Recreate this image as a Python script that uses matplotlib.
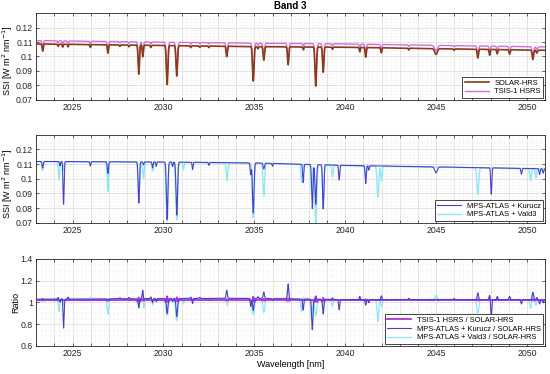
"""
Band 3 spectral comparison: SOLAR-HRS, TSIS-1 HSRS and MPS-ATLAS spectra
plus their ratios to SOLAR-HRS.
"""

import numpy as np
import matplotlib
matplotlib.use("Agg")
import matplotlib.pyplot as plt
from matplotlib.ticker import MultipleLocator, FuncFormatter

plt.rcParams['font.family'] = ['Liberation Sans', 'DejaVu Sans']

# Continuum anchors (nm, W m-2 nm-1)
cont_wl = [2023, 2030, 2035, 2040, 2045, 2051]
solar_cont = [0.1087, 0.1076, 0.1068, 0.1064, 0.1054, 0.1043]
tsis_cont = [0.1110, 0.1099, 0.1092, 0.1087, 0.1077, 0.1066]
kurucz_cont = [0.1118, 0.1114, 0.1108, 0.1091, 0.1081, 0.1068]
vald_cont = [0.1116, 0.1112, 0.1106, 0.1089, 0.1079, 0.1066]

# Absorption lines: centre (nm), depth below continuum, width (nm)
solar_lines_c = [2023.35, 2024.2, 2024.45, 2024.75, 2025.97, 2026.94, 2027.6, 2028.1,
                 2028.64, 2028.86, 2029.3, 2030.2, 2030.73, 2031.5, 2032.0, 2032.5,
                 2033.48, 2034.94, 2035.2, 2035.52, 2036.86, 2037.7, 2038.38, 2038.79,
                 2039.3, 2040.8, 2041.13, 2041.99, 2043.5, 2045.0, 2046.0, 2047.3,
                 2047.95, 2048.37, 2049.05, 2050.33, 2050.55]
solar_lines_d = [0.005, 0.0015, 0.002, 0.0018, 0.002, 0.0058, 0.001, 0.0012,
                 0.020, 0.008, 0.0015, 0.027, 0.021, 0.0012, 0.001, 0.001,
                 0.0072, 0.0238, 0.0015, 0.0093, 0.0124, 0.002, 0.027, 0.0174,
                 0.0015, 0.003, 0.0067, 0.0035, 0.0012, 0.004, 0.001, 0.006,
                 0.004, 0.003, 0.003, 0.0065, 0.002]
solar_lines_w = [0.03, 0.025, 0.025, 0.025, 0.025, 0.03, 0.025, 0.025,
                 0.035, 0.03, 0.025, 0.04, 0.04, 0.025, 0.025, 0.025,
                 0.035, 0.04, 0.025, 0.035, 0.035, 0.025, 0.04, 0.035,
                 0.025, 0.025, 0.03, 0.03, 0.025, 0.07, 0.025, 0.035,
                 0.03, 0.03, 0.035, 0.04, 0.035]

kurucz_lines_c = [2023.35, 2024.3, 2024.5, 2025.97, 2026.94, 2028.64, 2028.9, 2029.4,
                  2029.6, 2030.2, 2030.5, 2030.73, 2031.6, 2032.5, 2034.8, 2034.94,
                  2035.52, 2036.0, 2037.69, 2038.19, 2038.38, 2038.79, 2039.67, 2041.13,
                  2041.3, 2045.0, 2048.04, 2049.7, 2050.7, 2050.9]
kurucz_lines_d = [0.0045, 0.003, 0.029, 0.003, 0.008, 0.028, 0.002, 0.004,
                  0.003, 0.039, 0.003, 0.036, 0.005, 0.002, 0.008, 0.034,
                  0.004, 0.002, 0.0125, 0.030, 0.027, 0.030, 0.010, 0.012,
                  0.003, 0.004, 0.018, 0.004, 0.004, 0.003]
kurucz_lines_w = [0.03, 0.025, 0.03, 0.025, 0.03, 0.035, 0.025, 0.025,
                  0.025, 0.04, 0.025, 0.04, 0.025, 0.025, 0.03, 0.04,
                  0.035, 0.025, 0.03, 0.035, 0.04, 0.035, 0.03, 0.03,
                  0.025, 0.07, 0.03, 0.03, 0.03, 0.03]

vald_lines_c = [2023.35, 2024.25, 2024.5, 2026.94, 2028.64, 2028.9, 2029.4, 2030.2,
                2030.73, 2031.1, 2033.5, 2034.94, 2035.52, 2037.6, 2038.15, 2038.38,
                2038.79, 2039.3, 2041.13, 2041.8, 2042.0, 2047.3, 2050.2, 2050.5]
vald_lines_d = [0.006, 0.012, 0.006, 0.020, 0.025, 0.011, 0.006, 0.040,
                0.039, 0.005, 0.012, 0.037, 0.022, 0.012, 0.020, 0.040,
                0.025, 0.008, 0.008, 0.021, 0.010, 0.018, 0.008, 0.006]
vald_lines_w = [0.03, 0.035, 0.03, 0.04, 0.04, 0.04, 0.035, 0.05,
                0.05, 0.03, 0.04, 0.05, 0.045, 0.04, 0.04, 0.045,
                0.04, 0.035, 0.035, 0.045, 0.035, 0.05, 0.04, 0.035]

XLIM = (2023, 2051)


def build_spectrum(wl, cont, centres, depths, widths):
    """Continuum from anchors minus gaussian line profiles."""
    spec = np.interp(wl, cont_wl, cont)
    for c, d, w in zip(centres, depths, widths):
        spec = spec - d * np.exp(-0.5 * ((wl - c) / w) ** 2)
    return spec


def style_axis(ax, ylim, ymajor, yminor):
    ax.set_xlim(*XLIM)
    ax.set_ylim(*ylim)
    ax.xaxis.set_major_locator(MultipleLocator(1))
    ax.xaxis.set_minor_locator(MultipleLocator(0.25))
    ax.xaxis.set_major_formatter(FuncFormatter(
        lambda v, p: f"{v:.0f}" if round(v) % 5 == 0 else ""))
    ax.yaxis.set_major_locator(MultipleLocator(ymajor))
    ax.yaxis.set_minor_locator(MultipleLocator(yminor))
    ax.tick_params(which='both', direction='in', top=True, right=True,
                   labelsize=6.3, length=2.5, width=0.5, pad=2.5, colors='#262626')
    ax.tick_params(which='minor', length=0)
    ax.grid(which='major', color='#d9d9d9', linewidth=0.5)
    ax.grid(which='minor', color='#e6e6e6', linewidth=0.4, linestyle=':')
    for s in ax.spines.values():
        s.set_linewidth(0.6)
        s.set_color('#262626')


def add_legend(ax, handles, labels):
    leg = ax.legend(handles, labels, loc='lower right', fontsize=5.4, fancybox=False,
                    edgecolor='#262626', framealpha=1, borderpad=0.35, labelspacing=0.2,
                    handlelength=3.2, handletextpad=0.7, borderaxespad=0.25)
    leg.get_frame().set_linewidth(0.6)


def main():
    wl = np.arange(2022.9, 2051.1, 0.002)
    solar = build_spectrum(wl, solar_cont, solar_lines_c, solar_lines_d, solar_lines_w)
    tsis = build_spectrum(wl, tsis_cont, solar_lines_c,
                          [d * 0.92 for d in solar_lines_d],
                          [w * 1.15 for w in solar_lines_w])
    kurucz = build_spectrum(wl, kurucz_cont, kurucz_lines_c, kurucz_lines_d, kurucz_lines_w)
    vald = build_spectrum(wl, vald_cont, vald_lines_c, vald_lines_d, vald_lines_w)

    fig = plt.figure(figsize=(5.5, 3.74), dpi=100)
    ax1 = fig.add_axes([0.066, 0.733, 0.925, 0.232])
    ax2 = fig.add_axes([0.066, 0.404, 0.925, 0.236])
    ax3 = fig.add_axes([0.066, 0.075, 0.925, 0.233])

    ssi_ticks = [0.07, 0.08, 0.09, 0.1, 0.11, 0.12]
    ssi_labels = ['0.07', '0.08', '0.09', '0.1', '0.11', '0.12']
    ssi_label = r'SSI [W m$^{2}$ nm$^{-1}$]'

    # Top: observed spectra
    ax1.plot(wl, tsis, color='#d070e0', linewidth=1.0, label='TSIS-1 HSRS', zorder=2)
    ax1.plot(wl, solar, color='#8b3a1a', linewidth=1.2, label='SOLAR-HRS', zorder=3)
    style_axis(ax1, (0.07, 0.13), 0.01, 0.002)
    ax1.set_yticks(ssi_ticks)
    ax1.set_yticklabels(ssi_labels)
    ax1.set_ylabel(ssi_label, fontsize=6.5)
    ax1.yaxis.set_label_coords(-0.041, 0.45)
    ax1.set_title('Band 3', fontsize=7, fontweight='bold', pad=3)
    h, l = ax1.get_legend_handles_labels()
    add_legend(ax1, h[::-1], l[::-1])

    # Middle: model spectra
    ax2.plot(wl, vald, color='#8ee8f2', linewidth=1.0, label='MPS-ATLAS + Vald3', zorder=2)
    ax2.plot(wl, kurucz, color='#4a3fc8', linewidth=0.8, label='MPS-ATLAS + Kurucz', zorder=3)
    style_axis(ax2, (0.07, 0.13), 0.01, 0.002)
    ax2.set_yticks(ssi_ticks)
    ax2.set_yticklabels(ssi_labels)
    ax2.set_ylabel(ssi_label, fontsize=6.5)
    ax2.yaxis.set_label_coords(-0.041, 0.45)
    h, l = ax2.get_legend_handles_labels()
    add_legend(ax2, h[::-1], l[::-1])

    # Bottom: ratios
    ax3.plot(wl, vald / solar, color='#8ee8f2', linewidth=0.9,
             label='MPS-ATLAS + Vald3 / SOLAR-HRS', zorder=2)
    ax3.plot(wl, tsis / solar, color='#b030d8', linewidth=1.3,
             label='TSIS-1 HSRS / SOLAR-HRS', zorder=3)
    ax3.plot(wl, kurucz / solar, color='#4a3fc8', linewidth=0.8,
             label='MPS-ATLAS + Kurucz / SOLAR-HRS', zorder=4)
    style_axis(ax3, (0.6, 1.4), 0.2, 0.05)
    ax3.set_yticks([0.6, 0.8, 1.0, 1.2, 1.4])
    ax3.set_yticklabels(['0.6', '0.8', '1', '1.2', '1.4'])
    ax3.set_ylabel('Ratio', fontsize=6.5)
    ax3.yaxis.set_label_coords(-0.031, 0.5)
    ax3.set_xlabel('Wavelength [nm]', fontsize=6.5, labelpad=1)
    h, l = ax3.get_legend_handles_labels()
    add_legend(ax3, [h[1], h[2], h[0]], [l[1], l[2], l[0]])

    fig.savefig('out.png', dpi=100)


if __name__ == "__main__":
    main()
